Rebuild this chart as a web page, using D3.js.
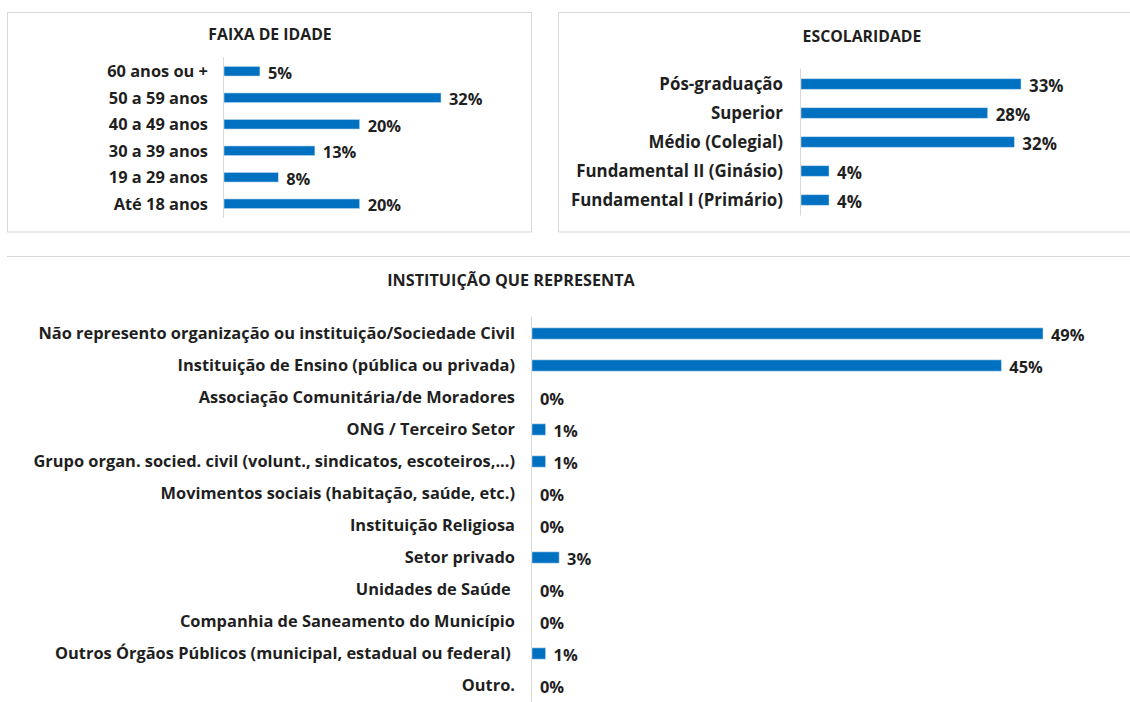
<!DOCTYPE html>
<html>
<head>
<meta charset="utf-8">
<script src="https://cdn.jsdelivr.net/npm/d3@7"></script>
<style>
  body { margin: 0; background: #fff; }
  text { font-family: "Open Sans", "Noto Sans", sans-serif; font-weight: 700; fill: #1f1f1f; }
</style>
</head>
<body>
<div id="chart"></div>
<script>
// faixa de idade
var idade_cats = ["60 anos ou +", "50 a 59 anos", "40 a 49 anos", "30 a 39 anos", "19 a 29 anos", "Até 18 anos"];
var idade_vals = [5.3, 32, 20, 13.4, 8, 20];
var idade_labels = ["5%", "32%", "20%", "13%", "8%", "20%"];

// escolaridade
var escol_cats = ["Pós-graduação", "Superior", "Médio (Colegial)", "Fundamental II (Ginásio)", "Fundamental I (Primário)"];
var escol_vals = [33, 28, 32, 4.2, 4.2];
var escol_labels = ["33%", "28%", "32%", "4%", "4%"];

// instituição que representa
var inst_cats = ["Não represento organização ou instituição/Sociedade Civil",
    "Instituição de Ensino (pública ou privada)",
    "Associação Comunitária/de Moradores",
    "ONG / Terceiro Setor",
    "Grupo organ. socied. civil (volunt., sindicatos, escoteiros,...)",
    "Movimentos sociais (habitação, saúde, etc.)",
    "Instituição Religiosa",
    "Setor privado",
    "Unidades de Saúde\u00a0",
    "Companhia de Saneamento do Município",
    "Outros Órgãos Públicos (municipal, estadual ou federal)\u00a0",
    "Outro."];
var inst_vals = [49, 45, 0, 1.3, 1.3, 0, 0, 2.6, 0, 0, 1.3, 0];
var inst_labels = ["49%", "45%", "0%", "1%", "1%", "0%", "0%", "3%", "0%", "0%", "1%", "0%"];

var width = 1130, height = 702;

var svg = d3.select("#chart")
    .append("svg")
        .attr("width", width)
        .attr("height", height);

// panel frames
svg.append("rect")
    .attr("x", 7.5).attr("y", 12.5).attr("width", 524).attr("height", 219.5)
    .attr("fill", "none").attr("stroke", "#d9d9d9");
svg.append("path")
    .attr("d", "M1131,12.5 H558.5 V232 H1131")
    .attr("fill", "none").attr("stroke", "#d9d9d9");
svg.append("line")
    .attr("x1", 7).attr("x2", 1130).attr("y1", 256.5).attr("y2", 256.5)
    .attr("stroke", "#d9d9d9");

function bar_panel(config){
    var x = d3.scaleLinear()
        .domain([0, config.max])
        .range([config.x0, config.x1]);

    var y = d3.scaleBand()
        .domain(config.cats)
        .range([config.y0, config.y1])
        .paddingInner(config.padding)
        .paddingOuter(config.padding / 2);

    var g = svg.append("g");

    g.append("text")
        .attr("x", config.title_x)
        .attr("y", config.title_y)
        .attr("text-anchor", "middle")
        .attr("font-size", config.title_size)
        .text(config.title);

    var data = config.cats.map(function(d, i){
        return { cat: d, val: config.vals[i], label: config.labels[i] };
    });

    g.selectAll(".bar")
        .data(data)
        .enter()
        .append("rect")
        .attr("class", "bar")
        .attr("x", x(0))
        .attr("y", function(d){ return y(d.cat); })
        .attr("width", function(d){ return x(d.val) - x(0); })
        .attr("height", y.bandwidth())
        .attr("fill", "#0070c0")
        .attr("stroke", "#bcd8ee")
        .attr("stroke-width", 0.6);

    // axis line
    g.append("line")
        .attr("x1", x(0) - 0.5).attr("x2", x(0) - 0.5)
        .attr("y1", config.y0 - 1).attr("y2", config.y1 + 1)
        .attr("stroke", "#d9d9d9");

    g.selectAll(".cat")
        .data(data)
        .enter()
        .append("text")
        .attr("class", "cat")
        .attr("x", x(0) - config.label_gap)
        .attr("y", function(d){ return y(d.cat) + y.bandwidth()/2; })
        .attr("dy", "0.36em")
        .attr("text-anchor", "end")
        .attr("font-size", config.font_size)
        .style("white-space", "pre")
        .text(function(d){ return d.cat; });

    g.selectAll(".val")
        .data(data)
        .enter()
        .append("text")
        .attr("class", "val")
        .attr("x", function(d){ return x(d.val) + 8; })
        .attr("y", function(d){ return y(d.cat) + y.bandwidth()/2 + 1.5; })
        .attr("dy", "0.36em")
        .attr("font-size", config.font_size)
        .text(function(d){ return d.label; });
}

bar_panel({
    title: "FAIXA DE IDADE", title_x: 270, title_y: 40, title_size: 15.8,
    cats: idade_cats, vals: idade_vals, labels: idade_labels,
    max: 32, x0: 224, x1: 441, y0: 58, y1: 217, padding: 0.64,
    label_gap: 16, font_size: 16.4
});

bar_panel({
    title: "ESCOLARIDADE", title_x: 862, title_y: 42, title_size: 15.8,
    cats: escol_cats, vals: escol_vals, labels: escol_labels,
    max: 33, x0: 801, x1: 1021, y0: 69.5, y1: 214.5, padding: 0.64,
    label_gap: 18, font_size: 16.9
});

bar_panel({
    title: "INSTITUIÇÃO QUE REPRESENTA", title_x: 511, title_y: 286, title_size: 16.2,
    cats: inst_cats, vals: inst_vals, labels: inst_labels,
    max: 49, x0: 532, x1: 1043, y0: 317.5, y1: 701.5, padding: 0.65,
    label_gap: 17, font_size: 16.4
});
</script>
</body>
</html>
